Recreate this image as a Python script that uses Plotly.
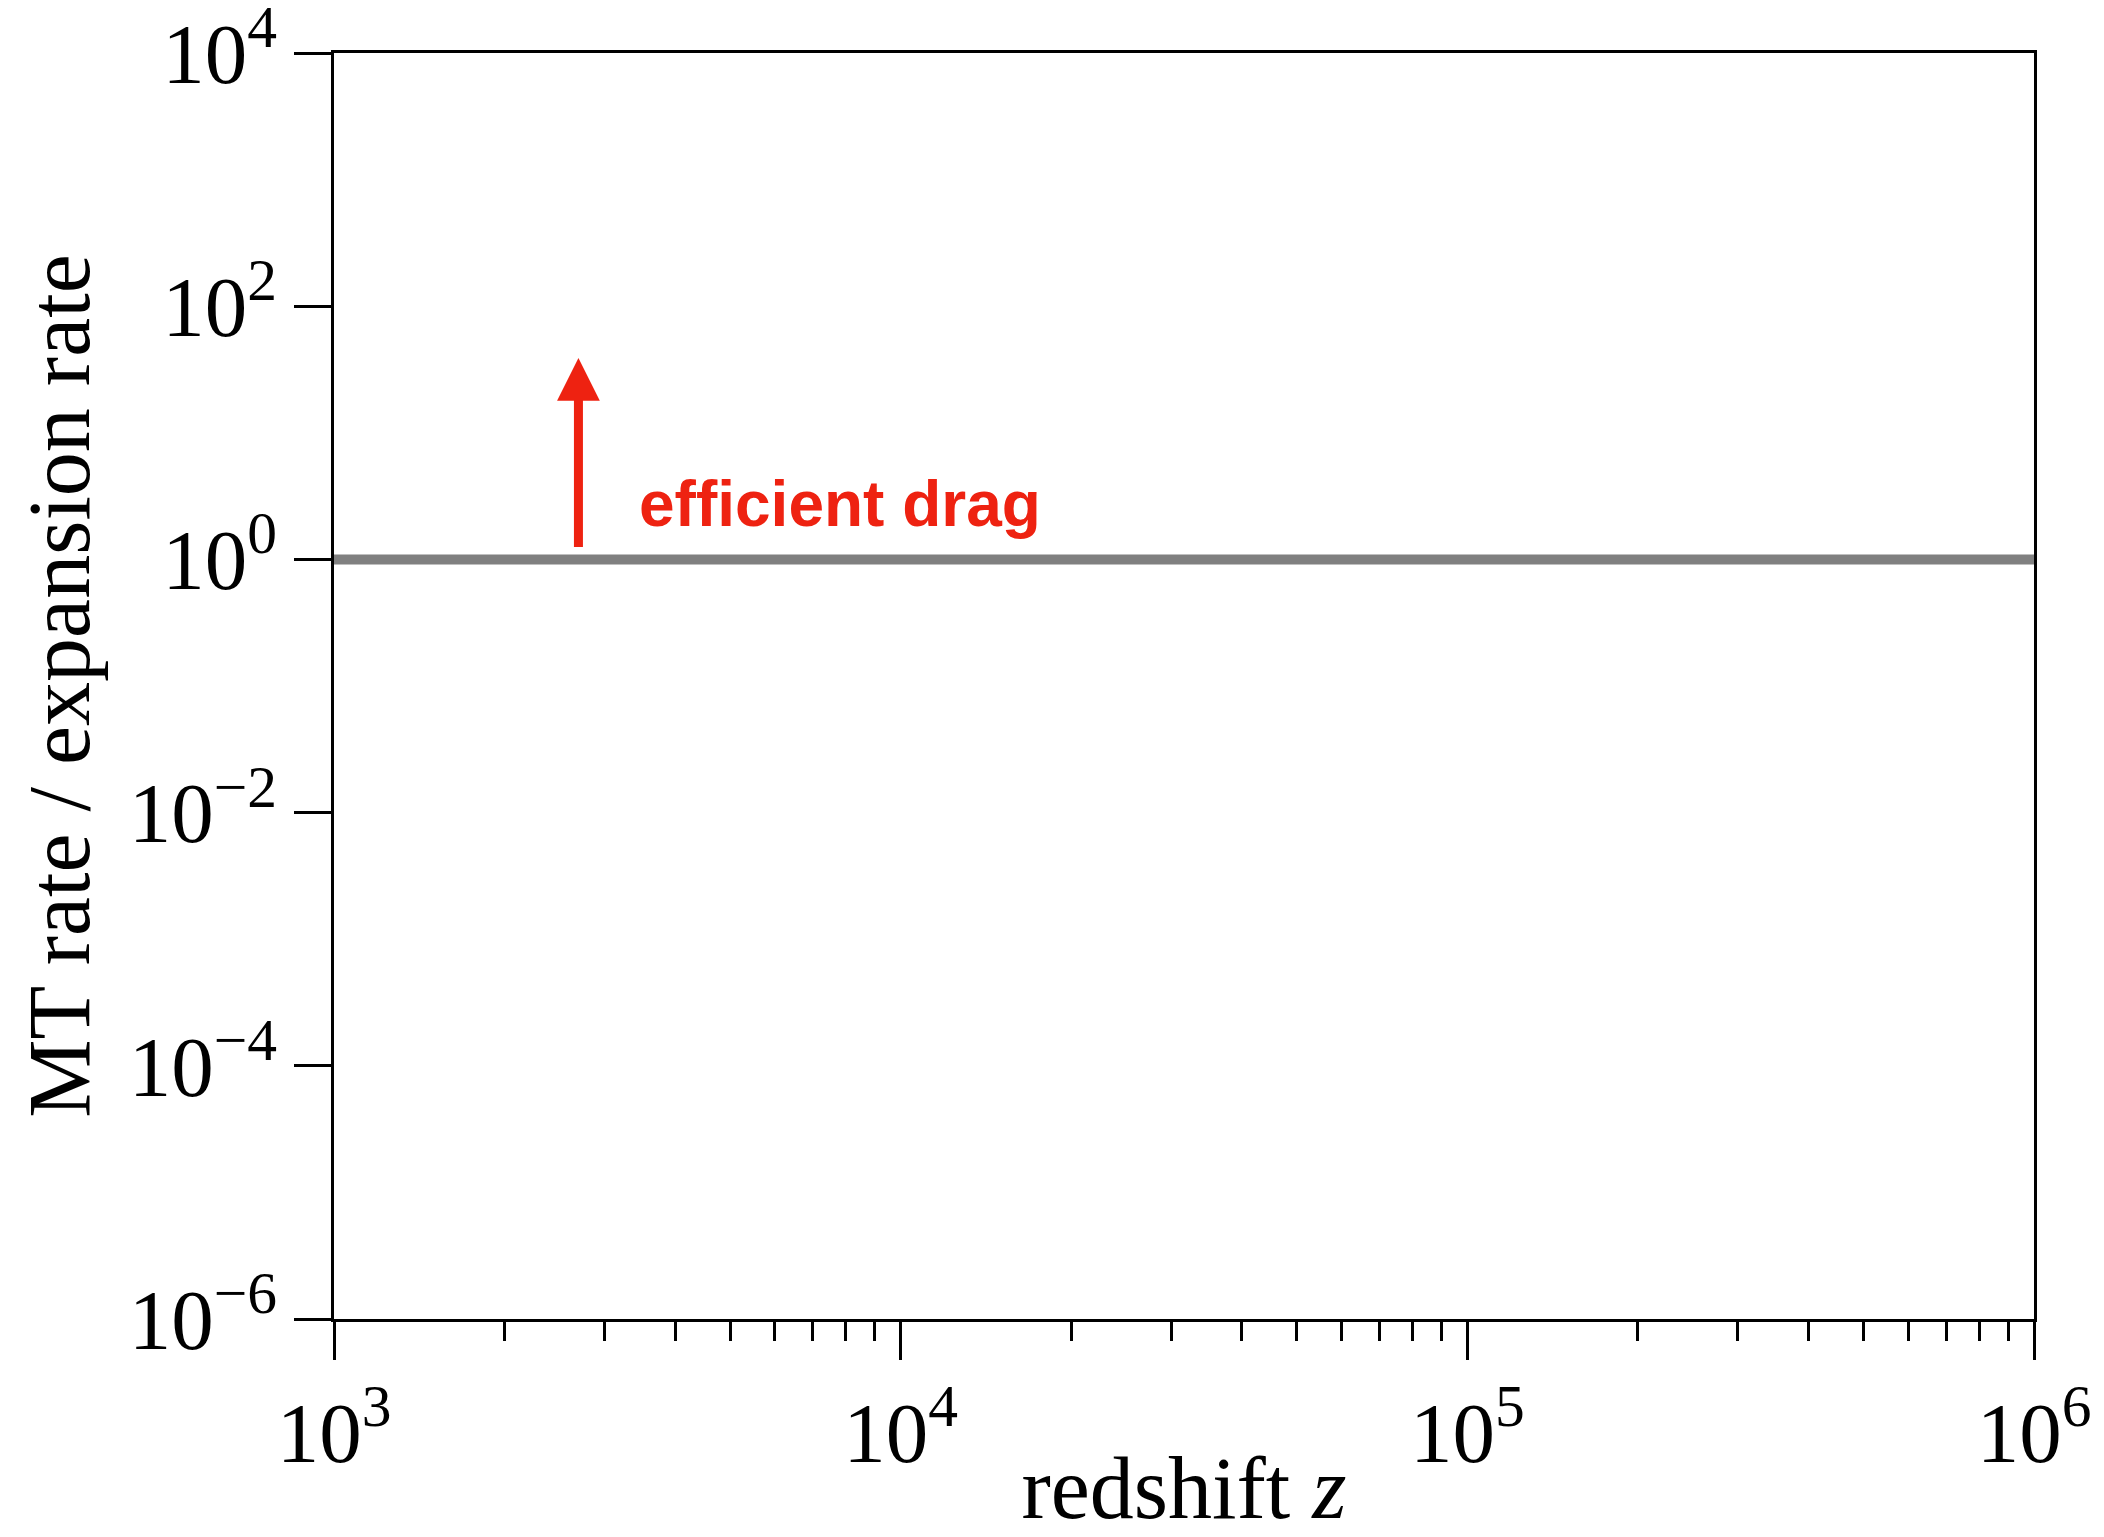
import math
import plotly.graph_objects as go

# Ratio of momentum-transfer rate to Hubble expansion rate across redshift
z_span = [1e3, 1e6]
rate_ratio = [1.0, 1.0]

# "efficient drag" indicator: vertical arrow pointing upward from the unity line
arrow_z = 2700
arrow_from = 1.22
arrow_to = 39.0
label_z = 3420
label_ratio = 2.75
label_text = "efficient drag"

x_tick_vals = [1e3, 1e4, 1e5, 1e6]
x_tick_text = ["10<sup>3</sup>", "10<sup>4</sup>", "10<sup>5</sup>", "10<sup>6</sup>"]
y_tick_vals = [1e-6, 1e-4, 1e-2, 1e0, 1e2, 1e4]
y_tick_text = ["10<sup>−6</sup>", "10<sup>−4</sup>", "10<sup>−2</sup>",
               "10<sup>0</sup>", "10<sup>2</sup>", "10<sup>4</sup>"]

RED = "rgb(238,34,17)"
SERIF = "Liberation Serif, Times New Roman, serif"

fig = go.Figure()
fig.add_trace(go.Scatter(
    x=z_span, y=rate_ratio, mode="lines",
    line=dict(color="rgb(128,128,128)", width=10),
    showlegend=False, hoverinfo="skip",
))

# arrow (annotation coordinates on log axes are log10 values)
fig.add_annotation(
    x=math.log10(arrow_z), y=math.log10(arrow_to),
    ax=math.log10(arrow_z), ay=math.log10(arrow_from),
    xref="x", yref="y", axref="x", ayref="y",
    text="", showarrow=True, arrowhead=2, arrowsize=0.95,
    arrowwidth=9, arrowcolor=RED, standoff=0, startstandoff=0,
)
fig.add_annotation(
    x=math.log10(label_z), y=math.log10(label_ratio),
    xref="x", yref="y", xanchor="left", yanchor="middle",
    text="<b>" + label_text + "</b>", showarrow=False,
    font=dict(family="Liberation Sans, Arial, sans-serif", size=64, color=RED),
)

minor_x = [m * 10 ** k for k in range(3, 6) for m in range(2, 10)]

axis_common = dict(
    type="log", showgrid=False, zeroline=False,
    showline=True, linecolor="black", linewidth=3, mirror=True,
    ticks="outside", tickcolor="black", tickwidth=3,
    tickfont=dict(family=SERIF, size=85, color="black"),
    ticklabeloverflow="allow",
)

fig.update_xaxes(
    **axis_common,
    range=[3, 6], tickvals=x_tick_vals, ticktext=x_tick_text, ticklen=38,
    minor=dict(ticks="outside", ticklen=19, tickwidth=2.5, tickcolor="black",
               tickvals=minor_x, showgrid=False),
    title=dict(text="redshift <i>z</i>", font=dict(family=SERIF, size=88, color="black"),
               standoff=26),
)
fig.update_yaxes(
    **axis_common,
    range=[-6, 4], tickvals=y_tick_vals, ticktext=y_tick_text, ticklen=37,
    title=dict(text="MT rate / expansion rate", font=dict(family=SERIF, size=88, color="black"),
               standoff=10),
)

fig.update_layout(
    width=2104, height=1537,
    margin=dict(l=334, r=70, t=53, b=218, autoexpand=False),
    paper_bgcolor="white", plot_bgcolor="white",
    showlegend=False,
)

fig.write_html("out.html")
